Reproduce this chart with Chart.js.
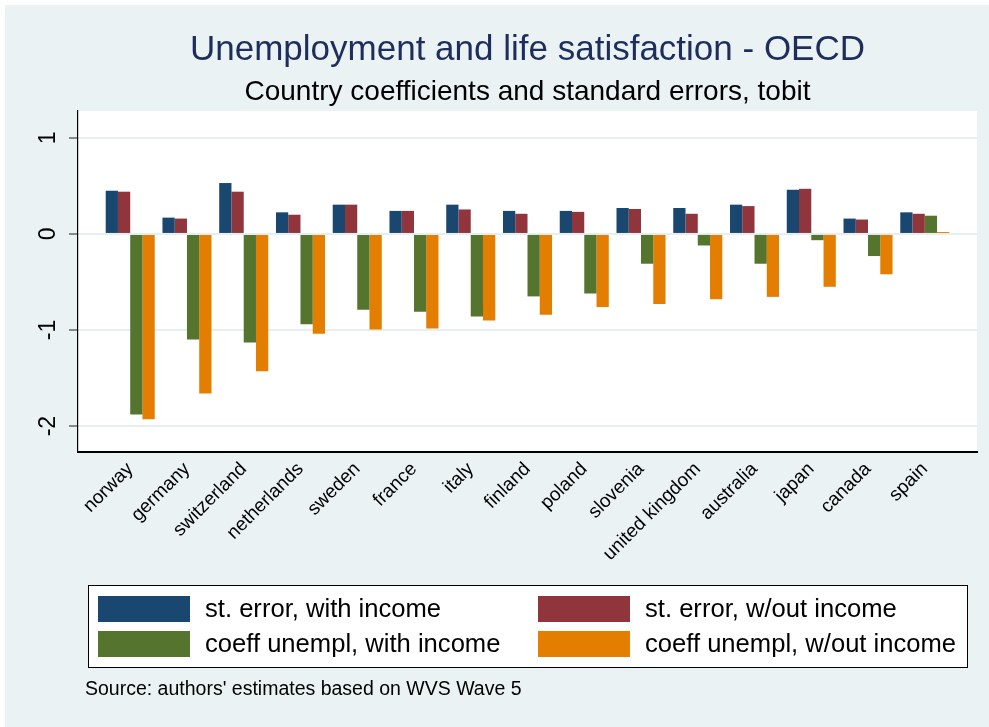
<!DOCTYPE html>
<html>
<head>
<meta charset="utf-8">
<script src="https://cdn.jsdelivr.net/npm/chart.js@4/dist/chart.umd.min.js"></script>
<style>
  html, body { margin: 0; padding: 0; background: #ffffff; }
  #wrap { width: 989px; height: 727px; }
</style>
</head>
<body>
<div id="wrap"><canvas id="chart" width="989" height="727"></canvas></div>
<script>
// Country order along the x axis
const countries = ['norway', 'germany', 'switzerland', 'netherlands', 'sweden', 'france', 'italy',
  'finland', 'poland', 'slovenia', 'united kingdom', 'australia', 'japan', 'canada', 'spain'];

// Tobit results per country
const seWithIncome      = [0.45, 0.17, 0.53, 0.225, 0.305, 0.24, 0.305, 0.24, 0.24, 0.27, 0.27, 0.305, 0.46, 0.16, 0.225];
const seWithoutIncome   = [0.44, 0.16, 0.44, 0.20, 0.305, 0.24, 0.255, 0.21, 0.23, 0.26, 0.21, 0.29, 0.47, 0.15, 0.21];
const coefWithIncome    = [-1.88, -1.10, -1.13, -0.94, -0.79, -0.81, -0.86, -0.65, -0.62, -0.31, -0.12, -0.31, -0.065, -0.23, 0.19];
const coefWithoutIncome = [-1.93, -1.66, -1.43, -1.04, -0.995, -0.985, -0.90, -0.84, -0.76, -0.73, -0.68, -0.655, -0.55, -0.42, 0.02];

const seriesLabels = ['st. error, with income', 'st. error, w/out income',
  'coeff unempl, with income', 'coeff unempl, w/out income'];
const seriesColors = ['#1a476f', '#90353b', '#55752f', '#e37e00'];

const yTicks = [-2, -1, 0, 1];

const FONT = "'Liberation Sans', Arial, Helvetica, sans-serif";

const toPoints = arr => arr.map((v, i) => ({ x: i, y: v }));
const seriesValues = [seWithIncome, seWithoutIncome, coefWithIncome, coefWithoutIncome];

const datasets = seriesValues.map((vals, k) => ({
  label: seriesLabels[k],
  data: toPoints(vals),
  backgroundColor: seriesColors[k],
  borderWidth: 0,
  barPercentage: 1.0,
  categoryPercentage: 0.864
}));

// Backgrounds: outer graph region and white plot region
const backdrop = {
  id: 'backdrop',
  beforeDraw(chart) {
    const { ctx, chartArea: a } = chart;
    ctx.save();
    ctx.fillStyle = '#ffffff';
    ctx.fillRect(0, 0, chart.width, chart.height);
    ctx.fillStyle = '#eaf2f3';
    ctx.fillRect(5, 5, chart.width - 5, chart.height - 5);
    ctx.fillStyle = '#ffffff';
    ctx.fillRect(a.left, a.top, a.right - a.left, a.bottom - a.top);
    ctx.restore();
  }
};

// Titles, boxed two-column legend and source note
const annotations = {
  id: 'annotations',
  afterDraw(chart) {
    const { ctx, chartArea: a } = chart;
    const cx = (a.left + a.right) / 2;
    ctx.save();
    ctx.textAlign = 'center';
    ctx.textBaseline = 'middle';
    ctx.fillStyle = '#1e2e5c';
    ctx.font = `35px ${FONT}`;
    ctx.fillText('Unemployment and life satisfaction - OECD', cx, 50);
    ctx.fillStyle = '#000000';
    ctx.font = `28px ${FONT}`;
    ctx.fillText('Country coefficients and standard errors, tobit', cx, 92);

    // legend
    const box = { x: 88, y: 585, w: 879, h: 82 };
    ctx.fillStyle = '#ffffff';
    ctx.fillRect(box.x, box.y, box.w, box.h);
    ctx.strokeStyle = '#000000';
    ctx.lineWidth = 1;
    ctx.strokeRect(box.x + 0.5, box.y + 0.5, box.w, box.h);
    ctx.textAlign = 'left';
    ctx.font = `25.6px ${FONT}`;
    const cols = [98, 538];
    const rows = [596, 631];
    chart.data.datasets.forEach((ds, k) => {
      const sx = cols[k % 2];
      const sy = rows[Math.floor(k / 2)];
      ctx.fillStyle = ds.backgroundColor;
      ctx.fillRect(sx, sy, 92, 26);
      ctx.fillStyle = '#000000';
      ctx.fillText(ds.label, sx + 107, sy + 14);
    });

    ctx.font = `19.5px ${FONT}`;
    ctx.fillText("Source: authors' estimates based on WVS Wave 5", 85, 690);
    ctx.restore();
  }
};

new Chart(document.getElementById('chart'), {
  type: 'bar',
  data: { datasets },
  options: {
    responsive: false,
    animation: false,
    devicePixelRatio: 1,
    layout: { padding: { left: 0, top: 111, right: 12, bottom: 0 } },
    plugins: {
      legend: { display: false },
      title: { display: false },
      tooltip: { enabled: false }
    },
    scales: {
      x: {
        type: 'linear',
        offset: false,
        min: -0.92,
        max: 14.92,
        afterBuildTicks: s => { s.ticks = countries.map((c, i) => ({ value: i })); },
        afterFit: s => { s.height = 275; },
        grid: { display: false, drawTicks: false },
        border: { display: true, color: '#000000', width: 2 },
        ticks: {
          autoSkip: false,
          minRotation: 45,
          maxRotation: 45,
          padding: 6,
          color: '#000000',
          font: { family: FONT, size: 19 },
          callback: v => countries[v]
        }
      },
      y: {
        min: -2.27,
        max: 1.28,
        afterBuildTicks: s => { s.ticks = yTicks.map(v => ({ value: v })); },
        afterFit: s => { s.width = 78; },
        grid: {
          color: '#e5eef1',
          lineWidth: 2,
          drawTicks: true,
          tickLength: 9,
          tickColor: '#444444',
          tickWidth: 1.2
        },
        border: { display: true, color: '#000000', width: 1.2 },
        ticks: {
          minRotation: 90,
          maxRotation: 90,
          crossAlign: 'center',
          padding: 10,
          color: '#000000',
          font: { family: FONT, size: 23 }
        }
      }
    }
  },
  plugins: [backdrop, annotations]
});
</script>
</body>
</html>
